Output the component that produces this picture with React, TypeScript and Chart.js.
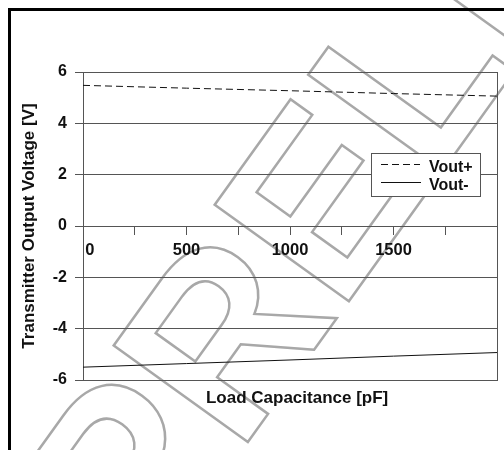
import React, { useEffect, useRef } from 'react';
import { Chart, registerables } from 'chart.js';

Chart.register(...registerables);

// ---- data ----
const xValues = [0, 500, 1000, 1500, 2000];
const voutPlus = [5.48, 5.37, 5.27, 5.16, 5.06];
const voutMinus = [-5.5, -5.36, -5.22, -5.07, -4.93];
const seriesLabels = ['Vout+', 'Vout-'];
const xTickLabels = [0, 500, 1000, 1500];
const xMin = 0;
const xMax = 2000;
const xStep = 250;
const yMin = -6;
const yMax = 6;
const yStep = 2;
const xAxisTitle = 'Load Capacitance [pF]';
const yAxisTitle = 'Transmitter Output Voltage [V]';
const watermarkText = 'PRELIMINARY';

const FAMILY = '"Liberation Sans", Arial, Helvetica, sans-serif';
const GRID = '#555555';
const INK = '#111111';

export default function App() {
  const ref = useRef<HTMLCanvasElement>(null);

  useEffect(() => {
    const canvas = ref.current;
    if (!canvas) return;

    const backgroundPlugin = {
      id: 'pageBackground',
      beforeDraw(chart: any) {
        const ctx = chart.ctx as CanvasRenderingContext2D;
        ctx.save();
        ctx.fillStyle = '#ffffff';
        ctx.fillRect(0, 0, chart.width, chart.height);
        // watermark
        ctx.translate(145, 585);
        ctx.rotate((-54.3 * Math.PI) / 180);
        ctx.font = `bold 240px ${FAMILY}`;
        ctx.textBaseline = 'alphabetic';
        ctx.textAlign = 'left';
        ctx.strokeStyle = '#a8a8a8';
        ctx.lineWidth = 2.5;
        ctx.strokeText(watermarkText, 0, 0);
        ctx.restore();
        // frame
        ctx.save();
        ctx.fillStyle = '#000000';
        ctx.fillRect(8, 8, chart.width - 8, 3);
        ctx.fillRect(8, 8, 3, chart.height - 8);
        ctx.restore();
      },
    };

    const legendPlugin = {
      id: 'boxLegend',
      afterDraw(chart: any) {
        const ctx = chart.ctx as CanvasRenderingContext2D;
        const bx = 371.5;
        const by = 153.5;
        const bw = 109;
        const bh = 43;
        ctx.save();
        ctx.fillStyle = '#ffffff';
        ctx.fillRect(bx, by, bw, bh);
        ctx.strokeStyle = GRID;
        ctx.lineWidth = 1;
        ctx.strokeRect(bx, by, bw, bh);
        const rows = [164.5, 182.5];
        const baselines = [171.5, 190];
        chart.data.datasets.forEach((ds: any, i: number) => {
          ctx.beginPath();
          ctx.setLineDash(ds.borderDash || []);
          ctx.strokeStyle = ds.borderColor;
          ctx.lineWidth = 1;
          ctx.moveTo(381, rows[i]);
          ctx.lineTo(i === 0 ? 420 : 421, rows[i]);
          ctx.stroke();
          ctx.setLineDash([]);
          ctx.fillStyle = INK;
          ctx.font = `bold 16px ${FAMILY}`;
          ctx.textAlign = 'left';
          ctx.textBaseline = 'alphabetic';
          ctx.fillText(ds.label, 429, baselines[i]);
        });
        ctx.restore();
      },
    };

    const chart = new Chart(canvas, {
      type: 'line',
      data: {
        datasets: [
          {
            label: seriesLabels[0],
            data: xValues.map((x, i) => ({ x, y: voutPlus[i] })),
            borderColor: INK,
            borderWidth: 1,
            borderDash: [7, 4],
            pointRadius: 0,
            fill: false,
            tension: 0,
          },
          {
            label: seriesLabels[1],
            data: xValues.map((x, i) => ({ x, y: voutMinus[i] })),
            borderColor: INK,
            borderWidth: 1,
            pointRadius: 0,
            fill: false,
            tension: 0,
          },
        ],
      },
      options: {
        responsive: false,
        animation: false,
        layout: { padding: { left: 0, right: 7, top: 72, bottom: 41.6 } },
        plugins: {
          legend: { display: false },
          tooltip: { enabled: false },
        },
        scales: {
          x: {
            type: 'linear',
            position: { y: 0 },
            min: xMin,
            max: xMax,
            ticks: {
              stepSize: xStep,
              autoSkip: false,
              maxRotation: 0,
              minRotation: 0,
              padding: 7,
              color: INK,
              font: { family: FAMILY, size: 16.5, weight: 'bold' },
              callback: (v: any) =>
                xTickLabels.includes(Number(v)) ? (Number(v) === 0 ? '   0' : String(v)) : '',
            },
            grid: {
              display: true,
              drawOnChartArea: false,
              drawTicks: true,
              tickLength: 8,
              color: GRID,
            },
            border: { display: true, color: GRID, width: 1 },
          },
          xb: {
            axis: 'x',
            type: 'linear',
            position: 'bottom',
            min: xMin,
            max: xMax,
            ticks: { display: false },
            grid: { display: false, drawTicks: false, tickLength: 0 },
            border: { display: true, color: GRID, width: 1 },
            title: {
              display: true,
              text: '   ' + xAxisTitle,
              color: INK,
              font: { family: FAMILY, size: 17, weight: 'bold' },
              padding: { top: 8, bottom: 0 },
            },
          },
          y: {
            type: 'linear',
            position: 'left',
            min: yMin,
            max: yMax,
            ticks: {
              stepSize: yStep,
              padding: 8,
              color: INK,
              font: { family: FAMILY, size: 16, weight: 'bold' },
            },
            grid: { color: GRID, tickLength: 8, lineWidth: 1 },
            border: { display: true, color: GRID, width: 1 },
            title: {
              display: true,
              text: yAxisTitle,
              color: INK,
              font: { family: FAMILY, size: 17, weight: 'bold' },
              padding: { top: 19, bottom: 0 },
            },
            afterFit: (s: any) => {
              s.width = 83;
            },
          },
          yR: {
            axis: 'y',
            type: 'linear',
            position: 'right',
            min: yMin,
            max: yMax,
            ticks: { display: false },
            grid: { display: false, drawTicks: false, tickLength: 0 },
            border: { display: true, color: GRID, width: 1 },
          },
        },
      } as any,
      plugins: [backgroundPlugin, legendPlugin],
    });

    return () => chart.destroy();
  }, []);

  return (
    <div style={{ position: 'absolute', left: 0, top: 0, width: 504, height: 450 }}>
      <canvas ref={ref} width={504} height={450} style={{ display: 'block' }} />
    </div>
  );
}
